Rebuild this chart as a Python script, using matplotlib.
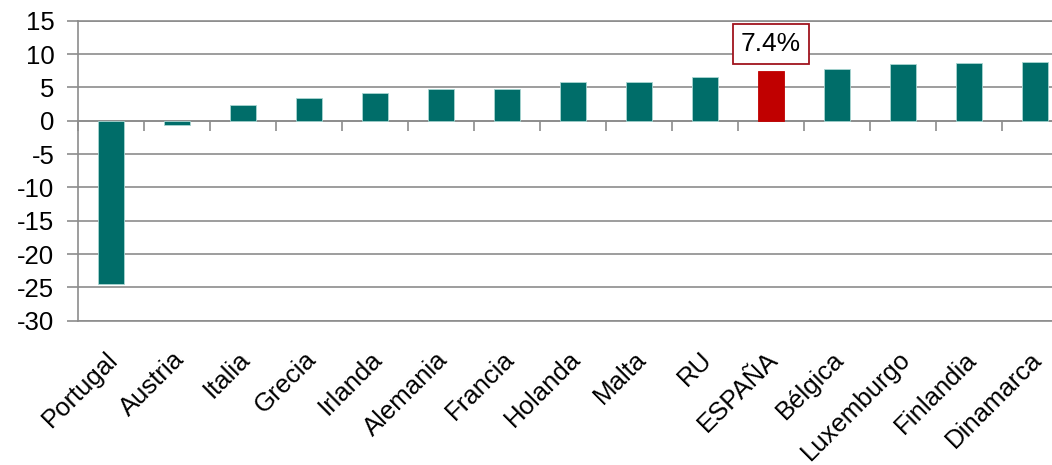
import matplotlib
matplotlib.use("Agg")
import matplotlib.pyplot as plt
from matplotlib.transforms import ScaledTranslation
import numpy as np

plt.rcParams['font.family'] = ['Liberation Sans', 'DejaVu Sans']

countries = ["Portugal", "Austria", "Italia", "Grecia", "Irlanda", "Alemania",
             "Francia", "Holanda", "Malta", "RU", "ESPAÑA", "Bélgica",
             "Luxemburgo", "Finlandia", "Dinamarca"]
values = [-24.5, -0.7, 2.4, 3.4, 4.2, 4.7, 4.8, 5.8, 5.8, 6.6, 7.4, 7.7,
          8.5, 8.7, 8.8]
highlight = "ESPAÑA"
y_ticks = [-30, -25, -20, -15, -10, -5, 0, 5, 10, 15]

teal = "#006D69"
red = "#C00000"
grid_grey = "#8C8C8C"

fig = plt.figure(figsize=(10.52, 4.65), dpi=100)
ax = fig.add_axes([78 / 1052, 144.3 / 465, 990 / 1052, 300 / 465])

x = np.arange(len(countries))
colors = [red if c == highlight else teal for c in countries]
ax.bar(x, values, width=0.4, color=colors, edgecolor="#A9D6D2",
       linewidth=0.6, zorder=3)
# the highlighted bar has no light outline
for patch, c in zip(ax.patches, countries):
    if c == highlight:
        patch.set_edgecolor(red)

ax.set_xlim(-0.5, len(countries) - 0.5)
ax.set_ylim(y_ticks[0], y_ticks[-1])
ax.set_yticks(y_ticks)
ax.set_yticklabels([str(t) for t in y_ticks], fontsize=18.5)
ax.yaxis.grid(True, color=grid_grey, linewidth=1.2, zorder=0)
ax.set_axisbelow(True)
ax.tick_params(axis='y', direction='out', length=8, width=1.2,
               color=grid_grey, pad=9)

for side in ["left", "top", "bottom"]:
    ax.spines[side].set_color(grid_grey)
    ax.spines[side].set_linewidth(1.2)
ax.spines["right"].set_visible(False)

# category labels under the plot area
ax.set_xticks(x)
ax.set_xticklabels(countries, fontsize=18.5, rotation=45, ha='right',
                   va='top', rotation_mode='anchor')
ax.tick_params(axis='x', length=0, pad=19)
for lbl in ax.get_xticklabels():
    lbl.set_transform(lbl.get_transform() +
                      ScaledTranslation(-5 / 100, 0, fig.dpi_scale_trans))

# category axis crossing at zero, with ticks between categories
ymin, ymax = ax.get_ylim()
zero_axis = ax.secondary_xaxis((0 - ymin) / (ymax - ymin))
zero_axis.set_xticks(np.arange(len(countries) + 1) - 0.5)
zero_axis.set_xticklabels([])
zero_axis.tick_params(direction='in', length=7, width=1.2, color=grid_grey)
for sp in zero_axis.spines.values():
    sp.set_color(grid_grey)
    sp.set_linewidth(1.2)

# value callout for the highlighted country
i = countries.index(highlight)
ax.annotate(f"{values[i]:.1f}%", xy=(i, values[i]), xytext=(0, 20),
            textcoords='offset points', ha='center', va='center',
            fontsize=19, zorder=5,
            bbox=dict(boxstyle='square,pad=0.3', facecolor='white',
                      edgecolor='#A0141E', linewidth=1.3))

fig.savefig("out.png", dpi=100)
